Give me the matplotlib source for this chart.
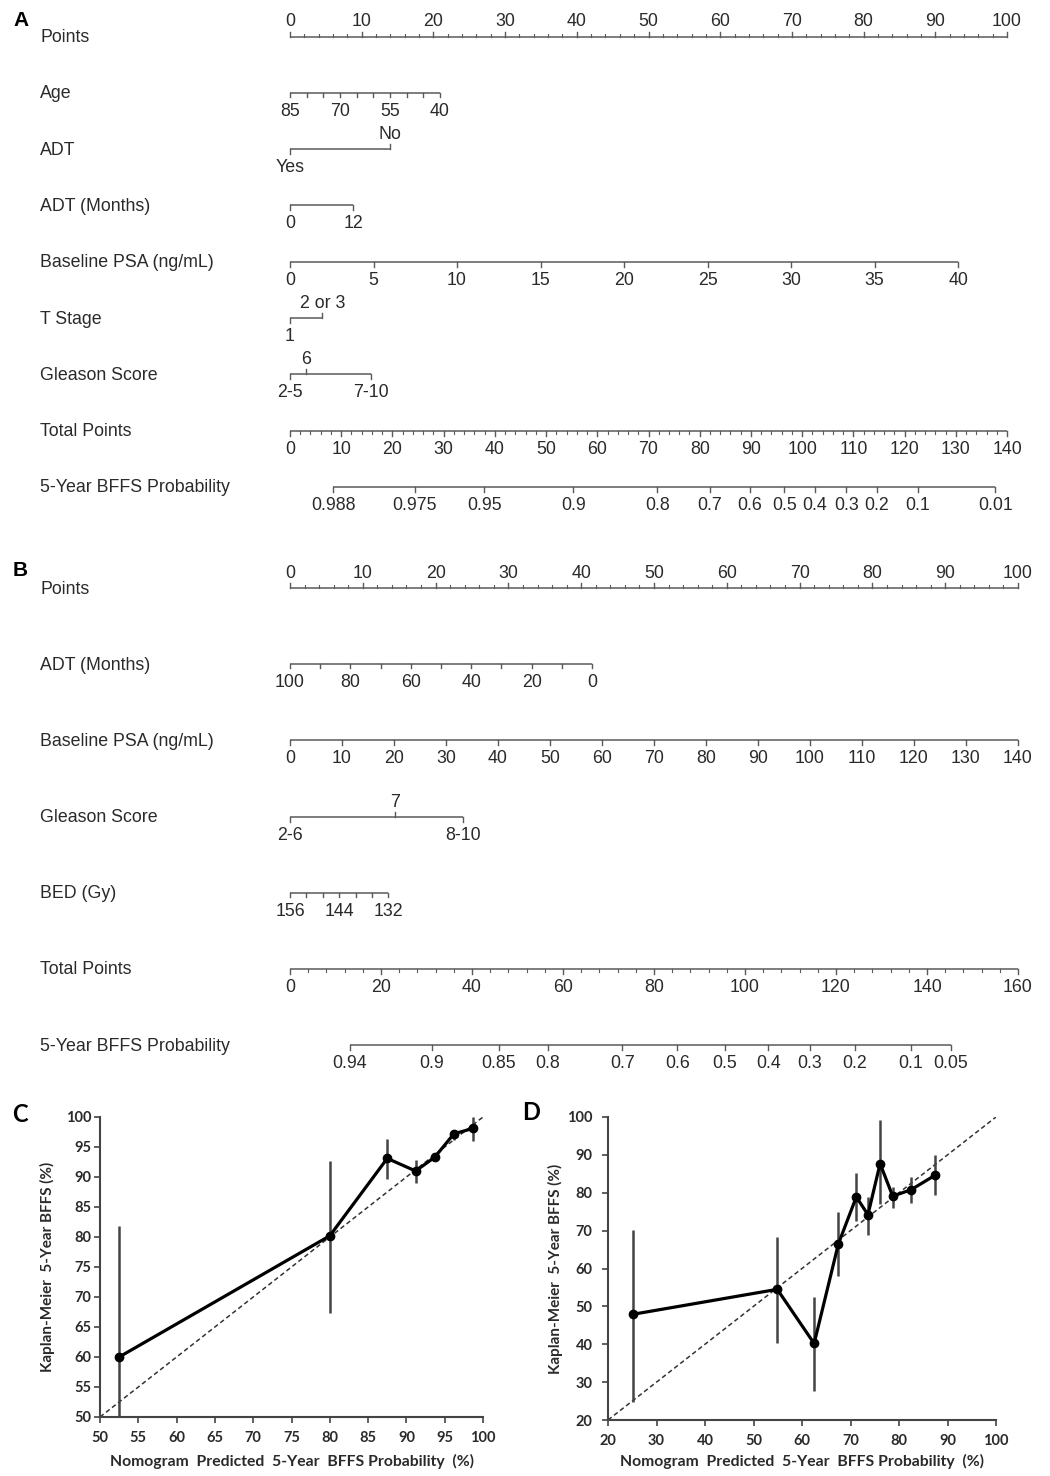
import numpy as np
import matplotlib.pyplot as plt
from matplotlib.transforms import blended_transform_factory

# ---------------- nomogram A ----------------
a_rows = ["Points", "Age", "ADT", "ADT (Months)", "Baseline PSA (ng/mL)",
          "T Stage", "Gleason Score", "Total Points", "5-Year BFFS Probability"]
a_age = [85, 80, 75, 70, 65, 60, 55, 50, 45, 40]
a_age_labeled = [85, 70, 55, 40]
a_age_pts = [0, 20.9]            # points at age 85 / age 40
a_adt = ["Yes", "No"]
a_adt_pts = [0, 14.0]
a_adtm = [0, 12]
a_adtm_pts = [0, 8.8]
a_psa = [0, 5, 10, 15, 20, 25, 30, 35, 40]
a_psa_pts = [0, 93.2]            # points at 0 / 40 ng/mL
a_tstage = ["1", "2 or 3"]
a_tstage_pts = [0, 4.5]
a_gleason = ["2-5", "6", "7-10"]
a_gleason_pts = [0, 2.2, 11.3]
a_total_max = 140
a_prob = ["0.988", "0.975", "0.95", "0.9", "0.8", "0.7", "0.6", "0.5",
          "0.4", "0.3", "0.2", "0.1", "0.01"]
a_prob_total = [8.4, 24.4, 37.9, 55.3, 71.7, 82.0, 89.8, 96.5,
                102.5, 108.6, 114.6, 122.6, 137.7]

# ---------------- nomogram B ----------------
b_rows = ["Points", "ADT (Months)", "Baseline PSA (ng/mL)", "Gleason Score",
          "BED (Gy)", "Total Points", "5-Year BFFS Probability"]
b_adtm = [100, 90, 80, 70, 60, 50, 40, 30, 20, 10, 0]
b_adtm_labeled = [100, 80, 60, 40, 20, 0]
b_adtm_pts = [0, 41.5]           # points at 100 / 0 months
b_psa = [0, 10, 20, 30, 40, 50, 60, 70, 80, 90, 100, 110, 120, 130, 140]
b_psa_pts = [0, 100]
b_gleason = ["2-6", "7", "8-10"]
b_gleason_pts = [0, 14.4, 23.8]
b_bed = [156, 152, 148, 144, 140, 136, 132]
b_bed_labeled = [156, 144, 132]
b_bed_pts = [0, 13.5]            # points at 156 / 132 Gy
b_total_max = 160
b_prob = ["0.94", "0.9", "0.85", "0.8", "0.7", "0.6", "0.5", "0.4",
          "0.3", "0.2", "0.1", "0.05"]
b_prob_total = [13.2, 31.2, 45.9, 56.7, 73.0, 85.1, 95.6, 105.1,
                114.3, 124.2, 136.5, 145.3]

# ---------------- calibration C ----------------
c_pred = [52.5, 80.0, 87.5, 91.2, 93.7, 96.2, 98.7]
c_km = [60.0, 80.2, 93.1, 91.0, 93.3, 97.2, 98.1]
c_lo = [50.0, 67.4, 89.6, 89.0, 92.7, 96.2, 96.0]
c_hi = [81.9, 92.7, 96.3, 92.9, 93.9, 97.9, 100.0]

# ---------------- calibration D ----------------
d_pred = [25.1, 54.9, 62.5, 67.5, 71.2, 73.6, 76.1, 78.7, 82.5, 87.4]
d_km = [47.9, 54.5, 40.2, 66.5, 78.9, 74.2, 87.7, 79.1, 80.8, 84.6]
d_lo = [24.8, 40.2, 27.6, 58.0, 72.5, 68.9, 77.0, 76.1, 77.2, 79.4]
d_hi = [70.2, 68.4, 52.5, 74.8, 85.1, 78.9, 99.1, 81.4, 84.2, 90.0]

W, H = 1050, 1476
LINE = "#5a5a5a"
TXT = "#2a2a2a"
NFONT = "Liberation Sans"
NSIZE = 12.8
CFONT = "Lato"

fig = plt.figure(figsize=(W / 100, H / 100), dpi=100)


def lin(values, v_ends, p_ends):
    v = np.asarray(values, float)
    return p_ends[0] + (v - v_ends[0]) * (p_ends[1] - p_ends[0]) / (v_ends[1] - v_ends[0])


def row(ax, y, pos, texts, sides, minor=(), tick=5, minor_tick=3):
    pos = np.asarray(pos, float)
    allp = np.concatenate([pos, np.asarray(minor, float)])
    ax.plot([allp.min(), allp.max()], [y, y], color=LINE, lw=1.1,
            solid_capstyle="butt", clip_on=False)
    for p, t, s in zip(pos, texts, sides):
        d = -1 if s == "above" else 1
        ax.plot([p, p], [y, y + d * tick], color=LINE, lw=1, clip_on=False)
        if t == "":
            continue
        if s == "above":
            ax.text(p, y - 10, t, ha="center", va="baseline", fontsize=NSIZE,
                    family=NFONT, color=TXT)
        else:
            ax.text(p, y + 10, t, ha="center", va="top", fontsize=NSIZE,
                    family=NFONT, color=TXT)
    if len(minor):
        d = -1 if sides[0] == "above" else 1
        for p in minor:
            ax.plot([p, p], [y, y + d * minor_tick], color=LINE, lw=0.8, clip_on=False)


def nomo_axes(x0, x1):
    ax = fig.add_axes([x0 / W, 0, (x1 - x0) / W, 1])
    ax.set_xlim(0, 100)
    ax.set_ylim(H, 0)
    ax.axis("off")
    return ax


def row_labels(ax, names, ys):
    tr = blended_transform_factory(fig.transFigure, ax.transData)
    for n, y in zip(names, ys):
        ax.text(40 / W, y + 1, n, transform=tr, ha="left", va="center",
                fontsize=NSIZE, family=NFONT, color=TXT)


# ---------- A ----------
axA = nomo_axes(290, 1007)
ya = [36.5 + 56.3 * i for i in range(len(a_rows))]
row_labels(axA, a_rows, ya)
majors = list(range(0, 101, 10))
row(axA, ya[0], majors, [str(m) for m in majors], ["above"] * len(majors),
    minor=[m for m in range(0, 101, 2) if m % 10])
row(axA, ya[1], lin(a_age, [85, 40], a_age_pts),
    [str(v) if v in a_age_labeled else "" for v in a_age], ["below"] * len(a_age), tick=4)
row(axA, ya[2], a_adt_pts, a_adt, ["below", "above"])
row(axA, ya[3], lin(a_adtm, [0, 12], a_adtm_pts), [str(v) for v in a_adtm], ["below"] * 2)
row(axA, ya[4], lin(a_psa, [0, 40], a_psa_pts), [str(v) for v in a_psa], ["below"] * len(a_psa))
row(axA, ya[5], a_tstage_pts, a_tstage, ["below", "above"])
row(axA, ya[6], a_gleason_pts, a_gleason, ["below", "above", "below"])
tmaj = list(range(0, a_total_max + 1, 10))
row(axA, ya[7], lin(tmaj, [0, a_total_max], [0, 100]), [str(t) for t in tmaj],
    ["below"] * len(tmaj),
    minor=lin([t for t in range(0, a_total_max + 1, 2) if t % 10], [0, a_total_max], [0, 100]))
row(axA, ya[8], lin(a_prob_total, [0, a_total_max], [0, 100]), a_prob, ["below"] * len(a_prob))

# ---------- B ----------
axB = nomo_axes(290, 1018)
yb = [588 + 76.2 * i for i in range(len(b_rows))]
row_labels(axB, b_rows, yb)
row(axB, yb[0], majors, [str(m) for m in majors], ["above"] * len(majors),
    minor=[m for m in range(0, 101, 2) if m % 10])
row(axB, yb[1], lin(b_adtm, [100, 0], b_adtm_pts),
    [str(v) if v in b_adtm_labeled else "" for v in b_adtm], ["below"] * len(b_adtm), tick=4)
row(axB, yb[2], lin(b_psa, [0, 140], b_psa_pts), [str(v) for v in b_psa], ["below"] * len(b_psa))
row(axB, yb[3], b_gleason_pts, b_gleason, ["below", "above", "below"])
row(axB, yb[4], lin(b_bed, [156, 132], b_bed_pts),
    [str(v) if v in b_bed_labeled else "" for v in b_bed], ["below"] * len(b_bed), tick=4)
tmaj = list(range(0, b_total_max + 1, 20))
row(axB, yb[5], lin(tmaj, [0, b_total_max], [0, 100]), [str(t) for t in tmaj],
    ["below"] * len(tmaj),
    minor=lin([t for t in range(0, b_total_max + 1, 4) if t % 20], [0, b_total_max], [0, 100]))
row(axB, yb[6], lin(b_prob_total, [0, b_total_max], [0, 100]), b_prob, ["below"] * len(b_prob))

fig.text(13 / W, 1 - 20 / H, "A", fontsize=15, fontweight="bold", family=NFONT,
         va="center", ha="left")
fig.text(13 / W, 1 - 571 / H, "B", fontsize=15, fontweight="bold", family=NFONT,
         va="center", ha="left")


# ---------- C and D ----------
def calib(box, pred, km, lo, hi, lim, step, ypad):
    x0, x1, y0, y1 = box
    ax = fig.add_axes([x0 / W, 1 - y1 / H, (x1 - x0) / W, (y1 - y0) / H])
    ax.plot(lim, lim, ls=(0, (3, 2)), color="#333333", lw=1.1)
    ax.vlines(pred, lo, hi, color="#444444", lw=1.8)
    ax.plot(pred, km, color="black", lw=2.3, marker="o", ms=6)
    ax.set_xlim(lim)
    ax.set_ylim(lim)
    ticks = np.arange(lim[0], lim[1] + 1, step)
    ax.set_xticks(ticks)
    ax.set_yticks(ticks)
    for s in ("top", "right"):
        ax.spines[s].set_visible(False)
    for s in ("left", "bottom"):
        ax.spines[s].set_color("#444444")
        ax.spines[s].set_linewidth(1.5)
    ax.tick_params(direction="out", length=4, width=1.2, color="#444444",
                   labelsize=10.5)
    ax.tick_params(axis="x", pad=6)
    ax.tick_params(axis="y", pad=ypad)
    for lab in ax.get_xticklabels() + ax.get_yticklabels():
        lab.set_fontfamily(CFONT)
        lab.set_fontweight("bold")
        lab.set_color(TXT)
    ax.set_ylabel("Kaplan-Meier  5-Year BFFS (%)", fontsize=11, fontweight="bold",
                  family=CFONT, color=TXT, va="center")
    ax.set_xlabel("Nomogram  Predicted  5-Year  BFFS Probability  (%)", fontsize=11.3,
                  fontweight="bold", family=CFONT, color=TXT, va="center")
    ax.yaxis.set_label_coords(-53 / (x1 - x0), 0.5)
    ax.xaxis.set_label_coords(0.5, -(1461 - y1) / (y1 - y0))
    return ax


calib((100, 483, 1117, 1417), c_pred, c_km, c_lo, c_hi, [50, 100], 5, 2)
calib((608, 996, 1117, 1420), d_pred, d_km, d_lo, d_hi, [20, 100], 10, 7)
fig.text(12 / W, 1 - 1115 / H, "C", fontsize=17, fontweight="bold", family=CFONT,
         va="center", ha="left")
fig.text(522 / W, 1 - 1113 / H, "D", fontsize=17, fontweight="bold", family=CFONT,
         va="center", ha="left")

fig.savefig("out.png", dpi=100)
